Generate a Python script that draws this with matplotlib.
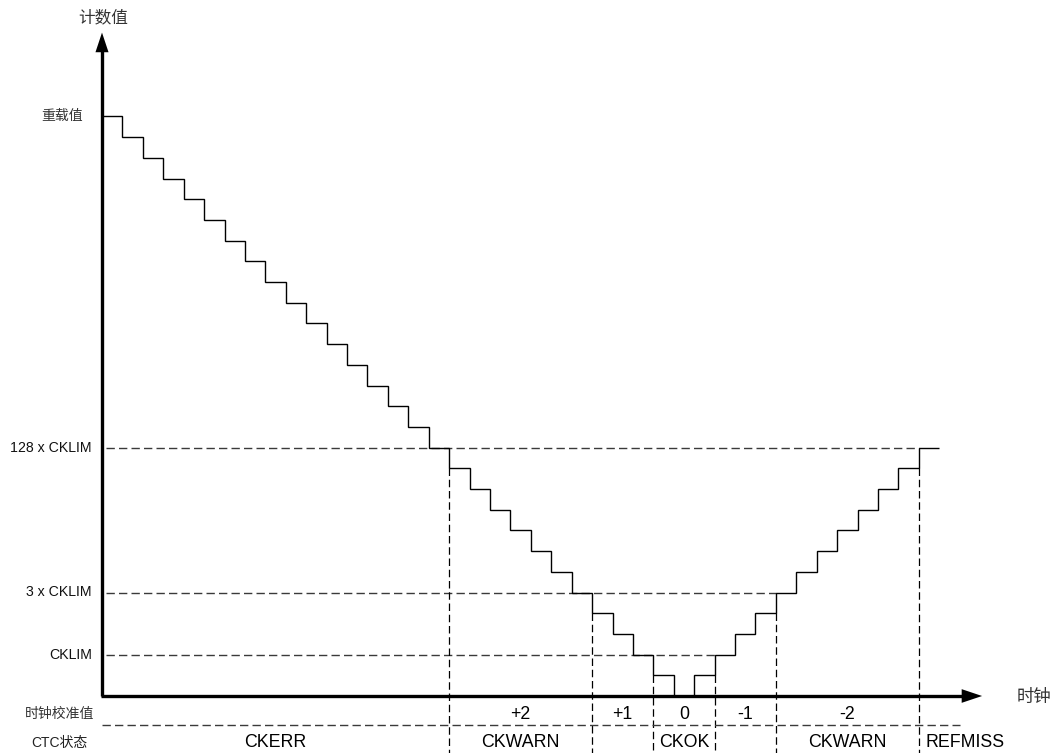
import matplotlib
matplotlib.use("Agg")
import matplotlib.pyplot as plt
import numpy as np

## Data
# counter value during each clock step (in units of one step)
counts = [28, 27, 26, 25, 24, 23, 22, 21, 20, 19, 18, 17, 16, 15, 14, 13,
          12, 11, 10, 9, 8, 7, 6, 5, 4, 3, 2, 1, 0, 1, 2, 3, 4, 5, 6, 7,
          8, 9, 10, 11, 12]
reload_level = 28
limit_names = ["128 x CKLIM", "3 x CKLIM", "CKLIM"]
limit_levels = [12, 5, 2]
limit_ends = [40, 33, 30]          # clock where each dashed guide stops

trim_labels = ["+2", "+1", "0", "-1", "-2"]
trim_edges = [17, 24, 27, 30, 33, 40]

status_labels = ["CKERR", "CKWARN", "CKOK", "CKWARN", "REFMISS"]
status_edges = [0, 17, 24, 33, 40, 44.5]

## Style
FONT = ["Liberation Sans", "Noto Sans CJK SC"]
plt.rcParams["font.family"] = FONT
dash_col = "#3a3a3a"

fig = plt.figure(figsize=(10.59, 7.53), dpi=100)
ax = fig.add_axes([0, 0, 1, 1])
# one clock step ~20.42 px, one count ~20.7 px; origin at (102, 696) px
ax.set_xlim(-102 / 20.42, 957 / 20.42)
ax.set_ylim(-57 / 20.7, 696 / 20.7)
ax.axis("off")

# horizontal guides for the limits
for lvl, end in zip(limit_levels, limit_ends):
    ax.plot([0.2, end], [lvl, lvl], color=dash_col, lw=1.0,
            dashes=(6, 3), zorder=1)

# vertical boundaries between trim regions
for b in trim_edges:
    low = min(counts[b - 1], counts[b]) if b < len(counts) else counts[-1]
    ax.plot([b, b], [low, -2.75], color="black", lw=0.9,
            dashes=(6, 3), zorder=1)

# row separator under the trim values
ax.plot([0, 42.0], [-1.40, -1.40], color=dash_col, lw=1.0,
        dashes=(6, 3), zorder=1)

# counter staircase
edges = np.arange(len(counts) + 1)
ax.stairs(counts, edges, baseline=None, color="black", lw=1.0, zorder=3)

# axes with arrow heads
ax.plot([0, 0], [0, 31.2], color="black", lw=2.4, zorder=4,
        solid_capstyle="butt")
ax.plot([-0.05, 42.2], [0, 0], color="black", lw=2.4, zorder=4,
        solid_capstyle="butt")
ax.fill([-0.32, 0.32, 0], [31.1, 31.1, 32.05], color="black", zorder=4,
        lw=0)
ax.fill([42.1, 42.1, 43.1], [-0.33, 0.33, 0], color="black", zorder=4,
        lw=0)

ax.text(0.05, 32.8, "计数值", ha="center", va="center", fontsize=12,
        color="#333333")
ax.text(44.8, -0.05, "时钟", ha="left", va="center", fontsize=12.5,
        color="#333333")

# y labels
ax.text(-0.93, reload_level, "重载值", ha="right", va="center", fontsize=10,
        color="#333333")
for name, lvl in zip(limit_names, limit_levels):
    ax.text(-0.49, lvl, name, ha="right", va="center", fontsize=10.2,
            color="#111111")

# bottom rows
ax.text(-2.06, -0.87, "时钟校准值", ha="center", va="center", fontsize=10,
        color="#333333")
ax.text(-2.1, -2.27, "CTC状态", ha="center", va="center", fontsize=10,
        color="#222222")
for lab, a, b in zip(trim_labels, trim_edges[:-1], trim_edges[1:]):
    ax.text((a + b) / 2, -0.87, lab, ha="center", va="center", fontsize=12.8)
for lab, a, b in zip(status_labels, status_edges[:-1], status_edges[1:]):
    ax.text((a + b) / 2, -2.27, lab, ha="center", va="center", fontsize=12.8)

fig.savefig("out.png", dpi=100, facecolor="white")
